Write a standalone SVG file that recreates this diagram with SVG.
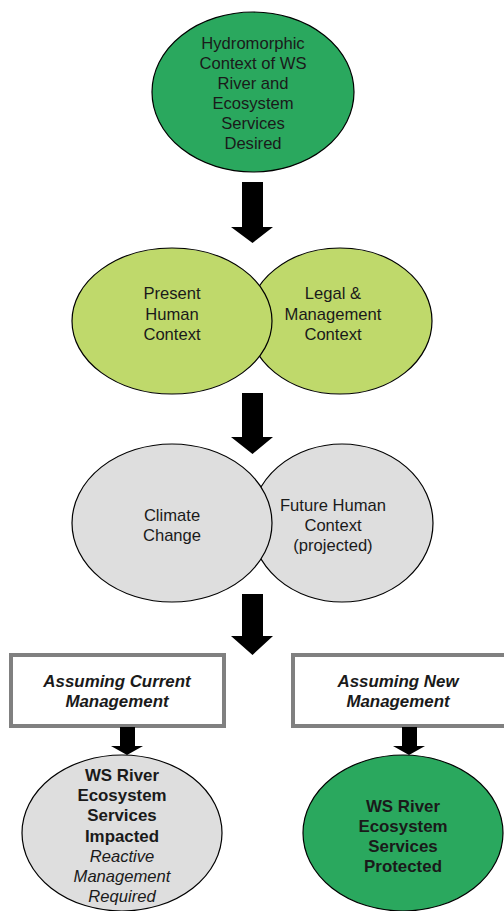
<svg xmlns="http://www.w3.org/2000/svg" width="504" height="911" viewBox="0 0 504 911">
<style>
.e{stroke:#000;stroke-width:1.2}
.dg{fill:#2aa85e}
.lg{fill:#bfd96b}
.gr{fill:#dedede}
.box{fill:#fff;stroke:#808080;stroke-width:4}
text{font-family:"Liberation Sans",Arial,sans-serif;font-size:16.6px;fill:#1a1a1a;text-anchor:middle}
.b{font-weight:bold;font-size:16.9px}
.i{font-style:italic}
.arr{fill:#000}
</style>
<rect width="504" height="911" fill="#fff"/>
<g id="hydromorphic">
<ellipse class="e dg" cx="253" cy="92" rx="101" ry="80"/>
<text x="253" y="49">Hydromorphic</text>
<text x="253" y="69">Context of WS</text>
<text x="253" y="89">River and</text>
<text x="253" y="109">Ecosystem</text>
<text x="253" y="129">Services</text>
<text x="253" y="149">Desired</text>
</g>
<g id="legal">
<ellipse class="e lg" cx="340" cy="321" rx="92" ry="73"/>
<text x="333" y="299">Legal &amp;</text>
<text x="333" y="320">Management</text>
<text x="333" y="340">Context</text>
</g>
<g id="present">
<ellipse class="e lg" cx="172" cy="321" rx="100" ry="73"/>
<text x="172" y="299">Present</text>
<text x="172" y="320">Human</text>
<text x="172" y="340">Context</text>
</g>
<g id="future">
<ellipse class="e gr" cx="342" cy="523" rx="91" ry="79"/>
<text x="333" y="511">Future Human</text>
<text x="333" y="531">Context</text>
<text x="333" y="551">(projected)</text>
</g>
<g id="climate">
<ellipse class="e gr" cx="172" cy="523" rx="100" ry="79"/>
<text x="172" y="521">Climate</text>
<text x="172" y="541">Change</text>
</g>
<g id="current">
<rect class="box" x="11" y="655" width="213" height="71"/>
<text class="b i" x="117" y="687">Assuming Current</text>
<text class="b i" x="117" y="707">Management</text>
</g>
<g id="new">
<rect class="box" x="293" y="655" width="213" height="71"/>
<text class="b i" x="398" y="687">Assuming New</text>
<text class="b i" x="398" y="707">Management</text>
</g>
<g id="impacted">
<ellipse class="e gr" cx="122" cy="833" rx="100" ry="78"/>
<text class="b" x="122" y="781">WS River</text>
<text class="b" x="122" y="801">Ecosystem</text>
<text class="b" x="122" y="821">Services</text>
<text class="b" x="122" y="842">Impacted</text>
<text class="i" x="122" y="862">Reactive</text>
<text class="i" x="122" y="882">Management</text>
<text class="i" x="122" y="902">Required</text>
</g>
<g id="protected">
<ellipse class="e dg" cx="403" cy="833" rx="100" ry="78"/>
<text class="b" x="403" y="812">WS River</text>
<text class="b" x="403" y="832">Ecosystem</text>
<text class="b" x="403" y="852">Services</text>
<text class="b" x="403" y="872">Protected</text>
</g>
<g id="connectors">
<polygon class="arr" points="242,182 263,182 263,227 273,227 252.5,243 231,227 242,227"/>
<polygon class="arr" points="242,393 263,393 263,437 273,437 252.5,454 231,437 242,437"/>
<polygon class="arr" points="242,594 263,594 263,636 273,636 252.5,655 231,636 242,636"/>
<polygon class="arr" points="120,727 135,727 135,746 143,746 127,755 111,746 120,746"/>
<polygon class="arr" points="402,727 417,727 417,746 425,746 409,755 393,746 402,746"/>
</g>
</svg>
